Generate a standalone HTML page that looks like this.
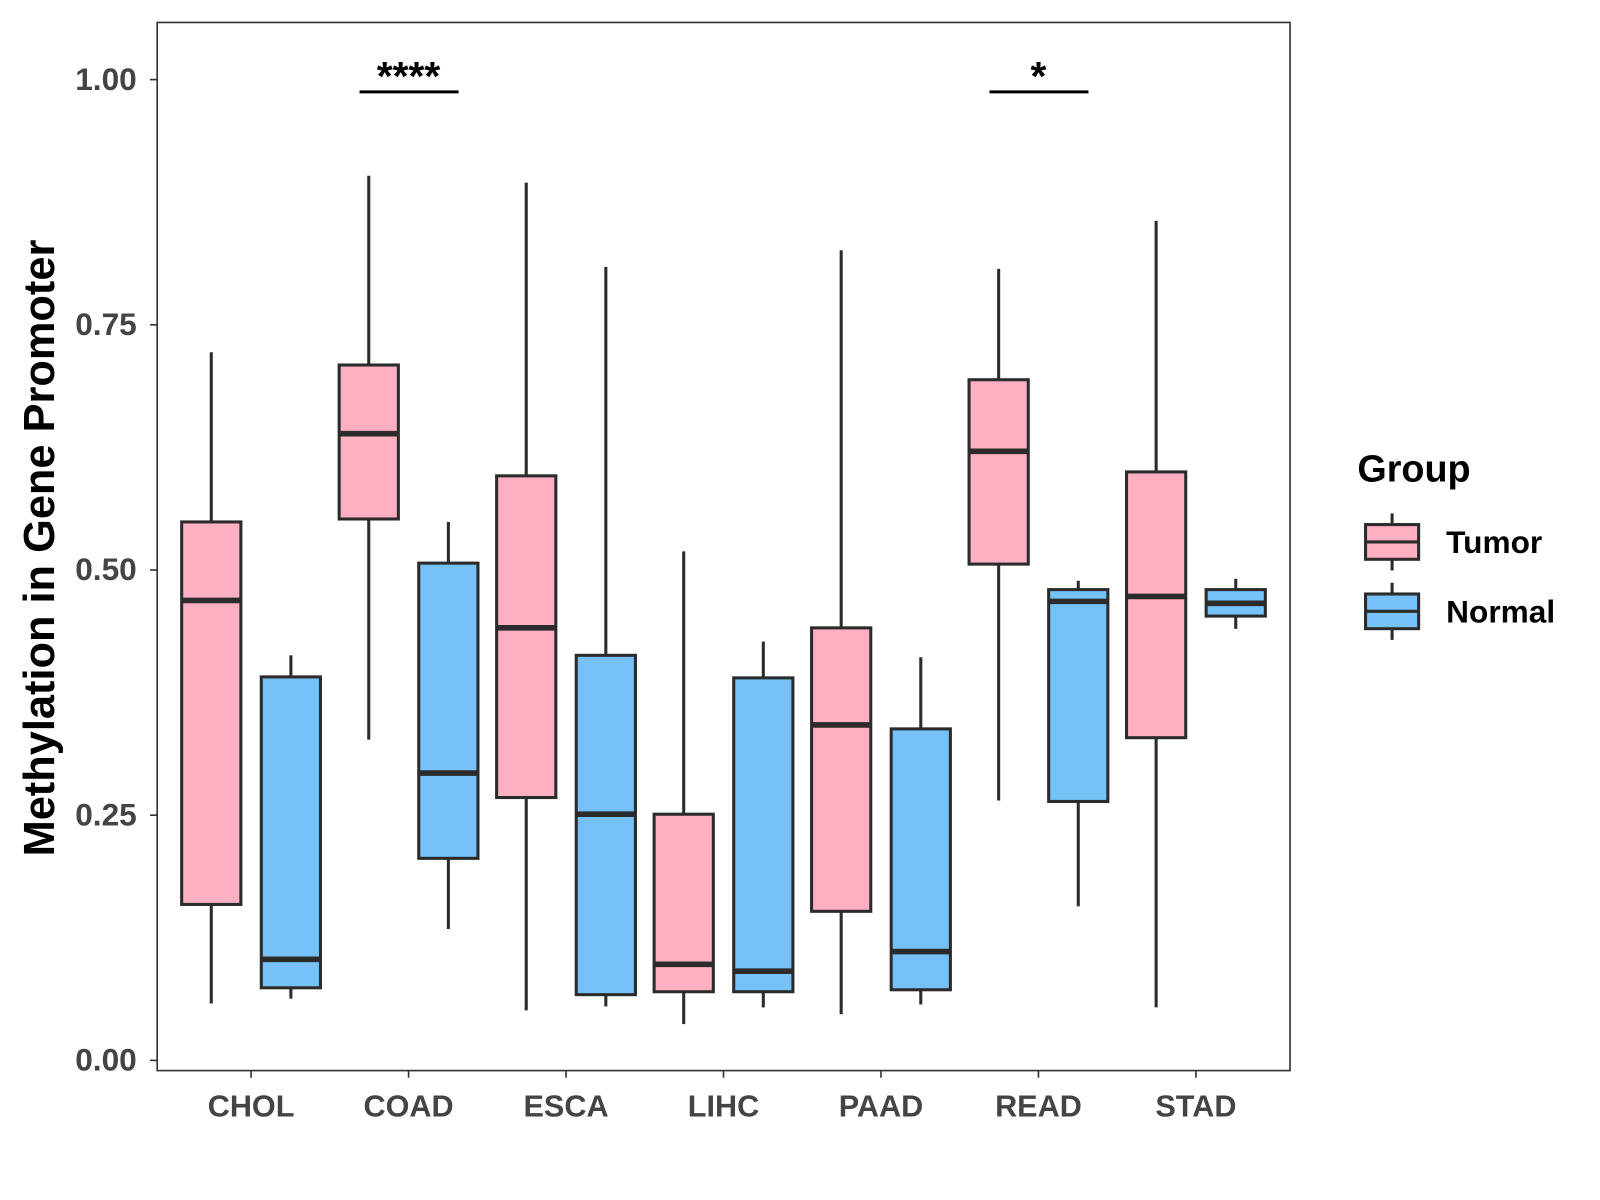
<!DOCTYPE html>
<html><head><meta charset="utf-8"><style>
html,body{margin:0;padding:0;background:#fff;}
svg{display:block;font-family:"Liberation Sans",Arial,sans-serif;font-weight:bold;}
</style></head><body>
<svg id="chart" width="1600" height="1200" viewBox="0 0 1567.7 1175.8" xmlns="http://www.w3.org/2000/svg">
<rect x="154" y="22" width="1110" height="1027" fill="#fff" stroke="#333" stroke-width="1.6"/>
<g id="yaxis"></g>
<g id="xaxis"></g>
<g id="boxes"></g>
<g id="sig"></g>
<text transform="translate(53,537) rotate(-90)" text-anchor="middle" font-size="42.5" fill="#000">Methylation in Gene Promoter</text>
<g>
<text x="1330" y="472" font-size="37" fill="#000">Group</text>
<g>
<line x1="1364" x2="1364" y1="503" y2="559" stroke="#2b2b2b" stroke-width="3"/>
<rect x="1338" y="514" width="52" height="34" fill="#FEB0C3" stroke="#2b2b2b" stroke-width="3"/>
<line x1="1338" x2="1390" y1="531" y2="531" stroke="#2b2b2b" stroke-width="3"/>
<text x="1417" y="542" font-size="31" fill="#000">Tumor</text></g>
<g>
<line x1="1364" x2="1364" y1="571" y2="627" stroke="#2b2b2b" stroke-width="3"/>
<rect x="1338" y="582" width="52" height="34" fill="#75C1F8" stroke="#2b2b2b" stroke-width="3"/>
<line x1="1338" x2="1390" y1="599" y2="599" stroke="#2b2b2b" stroke-width="3"/>
<text x="1417" y="610" font-size="31" fill="#000">Normal</text></g>
</g>
</svg>
<script>
const categories = ["CHOL","COAD","ESCA","LIHC","PAAD","READ","STAD"];
const tumorMin = [0.058,0.327,0.051,0.037,0.047,0.265,0.054];
const tumorQ1  = [0.159,0.552,0.268,0.070,0.152,0.506,0.329];
const tumorMed = [0.469,0.639,0.441,0.098,0.342,0.621,0.473];
const tumorQ3  = [0.549,0.709,0.596,0.251,0.441,0.694,0.600];
const tumorMax = [0.722,0.902,0.895,0.519,0.826,0.807,0.856];
const normalMin = [0.063,0.134,0.055,0.054,0.057,0.157,0.440];
const normalQ1  = [0.074,0.206,0.067,0.070,0.072,0.264,0.453];
const normalMed = [0.103,0.293,0.251,0.091,0.111,0.468,0.466];
const normalQ3  = [0.391,0.507,0.413,0.390,0.338,0.480,0.480];
const normalMax = [0.413,0.549,0.809,0.427,0.411,0.489,0.491];
const yTicks = [0,0.25,0.5,0.75,1.0];
const yTickLabels = ["0.00","0.25","0.50","0.75","1.00"];
const sigCategories = ["COAD","READ"];
const sigLabels = ["****","*"];

const NS="http://www.w3.org/2000/svg";
const y = v => 1039 - 961*v;
const x = i => 246 + 154.3*i;
function mk(tag, attrs, parent){const e=document.createElementNS(NS,tag);for(const k in attrs)e.setAttribute(k,attrs[k]);parent.appendChild(e);return e;}
const ya=document.getElementById('yaxis'), xa=document.getElementById('xaxis'), bx=document.getElementById('boxes'), sg=document.getElementById('sig');
yTicks.forEach((t,i)=>{
  const l=mk('line',{x1:147,x2:154,y1:y(t),y2:y(t),stroke:'#333','stroke-width':1.6},ya);
  
  
  const tx=mk('text',{x:134,y:y(t)+10,'text-anchor':'end','font-size':31,fill:'#444'},ya);
  tx.textContent=yTickLabels[i];
  
  
});
categories.forEach((c,i)=>{
  const l=mk('line',{x1:x(i),x2:x(i),y1:1049,y2:1056,stroke:'#333','stroke-width':1.6},xa);
  
  
  const tx=mk('text',{x:x(i),y:1094,'text-anchor':'middle','font-size':30,fill:'#444'},xa);
  tx.textContent=c;
  
  
});
function box(cx,mn,q1,md,q3,mx,fill,name){
  const g=mk('g',{},bx);
  
  
  mk('line',{x1:cx,x2:cx,y1:y(mx),y2:y(q3),stroke:'#2b2b2b','stroke-width':3},g);
  mk('line',{x1:cx,x2:cx,y1:y(q1),y2:y(mn),stroke:'#2b2b2b','stroke-width':3},g);
  mk('rect',{x:cx-29,y:y(q3),width:58,height:y(q1)-y(q3),fill:fill,stroke:'#2b2b2b','stroke-width':3},g);
  mk('line',{x1:cx-29,x2:cx+29,y1:y(md),y2:y(md),stroke:'#2b2b2b','stroke-width':5.5},g);
}
categories.forEach((c,i)=>{
  box(x(i)-39,tumorMin[i],tumorQ1[i],tumorMed[i],tumorQ3[i],tumorMax[i],'#FEB0C3','box-'+c.toLowerCase()+'-tumor');
  box(x(i)+39,normalMin[i],normalQ1[i],normalMed[i],normalQ3[i],normalMax[i],'#75C1F8','box-'+c.toLowerCase()+'-normal');
});
sigCategories.forEach((c,k)=>{
  const i=categories.indexOf(c);
  const l=mk('line',{x1:x(i)-48,x2:x(i)+49,y1:90,y2:90,stroke:'#000','stroke-width':3},sg);
  
  
  const t=mk('text',{x:x(i),y:88,'text-anchor':'middle','font-size':40,fill:'#000'},sg);
  t.textContent=sigLabels[k];
  
  
});
</script>
</body></html>
